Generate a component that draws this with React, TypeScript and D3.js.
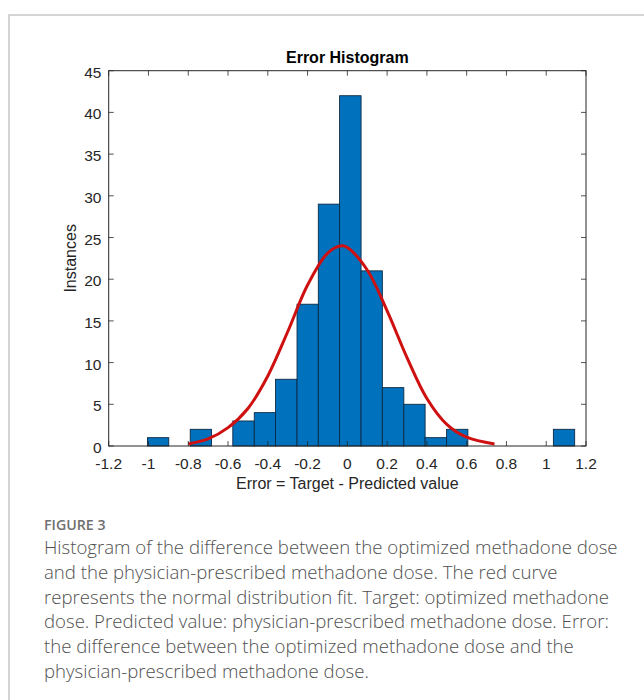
import React from "react";
import * as d3 from "d3";

// ---- data ----
const binEdges = [
  -1.005, -0.898, -0.79, -0.683, -0.576, -0.468, -0.361, -0.253, -0.146, -0.039,
  0.069, 0.176, 0.284, 0.391, 0.499, 0.606, 0.713, 0.821, 0.928, 1.036, 1.143,
];
const binCounts = [1, 0, 2, 0, 3, 4, 8, 17, 29, 42, 21, 7, 5, 1, 2, 0, 0, 0, 0, 2];

const fitX = [-0.8, -0.7, -0.6, -0.5, -0.4, -0.3, -0.2, -0.1, -0.03, 0, 0.1, 0.2, 0.3, 0.4, 0.5, 0.6, 0.74];
const fitY = [0.25, 0.85, 2.2, 4.5, 8.4, 13.7, 19.3, 23.1, 24.0, 23.8, 21.1, 16.2, 10.6, 5.7, 2.6, 1.05, 0.25];

const xTicks = [-1.2, -1, -0.8, -0.6, -0.4, -0.2, 0, 0.2, 0.4, 0.6, 0.8, 1, 1.2];
const xTickLabels = ["-1.2", "-1", "-0.8", "-0.6", "-0.4", "-0.2", "0", "0.2", "0.4", "0.6", "0.8", "1", "1.2"];
const yTicks = [0, 5, 10, 15, 20, 25, 30, 35, 40, 45];

const titleText = "Error Histogram";
const xLabelText = "Error = Target - Predicted value";
const yLabelText = "Instances";
const figureLabel = "FIGURE 3";
const captionLines = [
  "Histogram of the difference between the optimized methadone dose",
  "and the physician-prescribed methadone dose. The red curve",
  "represents the normal distribution fit. Target: optimized methadone",
  "dose. Predicted value: physician-prescribed methadone dose. Error:",
  "the difference between the optimized methadone dose and the",
  "physician-prescribed methadone dose.",
];

// ---- layout ----
const W = 644;
const H = 700;
const plot = { left: 108.7, right: 586, top: 70.7, bottom: 446 };
const FONT = "'Liberation Sans', Arial, Helvetica, sans-serif";
const CAP_FONT = "'Open Sans', Lato, sans-serif";
const AX = "#262626";

export default function App() {
  const x = d3.scaleLinear().domain([-1.2, 1.2]).range([plot.left, plot.right]);
  const y = d3.scaleLinear().domain([0, 45]).range([plot.bottom, plot.top]);

  const bins = binCounts.map((c, i) => ({ x0: binEdges[i], x1: binEdges[i + 1], c }));
  const fitPts = fitX.map((v, i) => [v, fitY[i]] as [number, number]);
  const line = d3
    .line<[number, number]>()
    .x((d) => x(d[0]))
    .y((d) => y(d[1]))
    .curve(d3.curveCatmullRom.alpha(0.5));

  const tick = 5;

  return (
    <svg
      width={W}
      height={H}
      style={{ position: "absolute", left: 0, top: 0, background: "#fff" }}
    >
      {/* card border */}
      <path d={`M9,${H} V15 H${W}`} fill="none" stroke="#c6c6c6" strokeWidth={1.5} />

      {/* bars */}
      {bins
        .filter((b) => b.c > 0)
        .map((b, i) => (
          <rect
            key={i}
            x={x(b.x0)}
            y={y(b.c)}
            width={x(b.x1) - x(b.x0)}
            height={y(0) - y(b.c)}
            fill="#0072BD"
            stroke="#0d2a45"
            strokeWidth={0.9}
          />
        ))}

      {/* fit curve */}
      <path d={line(fitPts) || ""} fill="none" stroke="#cf1010" strokeWidth={3} />

      {/* axes box */}
      <rect
        x={plot.left}
        y={plot.top}
        width={plot.right - plot.left}
        height={plot.bottom - plot.top}
        fill="none"
        stroke={AX}
        strokeWidth={1}
      />
      {xTicks.map((t, i) => (
        <g key={"xt" + i}>
          <line x1={x(t)} x2={x(t)} y1={plot.bottom} y2={plot.bottom - tick} stroke={AX} strokeWidth={0.8} />
          <line x1={x(t)} x2={x(t)} y1={plot.top} y2={plot.top + tick} stroke={AX} strokeWidth={0.8} />
          <text
            x={x(t)}
            y={468.5}
            textAnchor="middle"
            fontFamily={FONT}
            fontSize={15.5}
            fill={AX}
          >
            {xTickLabels[i]}
          </text>
        </g>
      ))}
      {yTicks.map((t, i) => (
        <g key={"yt" + i}>
          <line x1={plot.left} x2={plot.left + tick} y1={y(t)} y2={y(t)} stroke={AX} strokeWidth={0.8} />
          <line x1={plot.right} x2={plot.right - tick} y1={y(t)} y2={y(t)} stroke={AX} strokeWidth={0.8} />
          <text
            x={101.5}
            y={y(t) + 7}
            textAnchor="end"
            fontFamily={FONT}
            fontSize={15.5}
            fill={AX}
          >
            {t}
          </text>
        </g>
      ))}

      {/* title & labels */}
      <text x={(plot.left + plot.right) / 2} y={63} textAnchor="middle" fontFamily={FONT} fontSize={16} fontWeight="bold" fill="#000">
        {titleText}
      </text>
      <text x={(plot.left + plot.right) / 2} y={489} textAnchor="middle" fontFamily={FONT} fontSize={16} fill={AX}>
        {xLabelText}
      </text>
      <text
        transform={`translate(76, ${(plot.top + plot.bottom) / 2}) rotate(-90)`}
        textAnchor="middle"
        fontFamily={FONT}
        fontSize={16}
        fill={AX}
      >
        {yLabelText}
      </text>

      {/* caption */}
      <text x={44} y={530} fontFamily={CAP_FONT} fontSize={14.2} fontWeight={600} fill="#707070">
        {figureLabel}
      </text>
      {captionLines.map((l, i) => (
        <text
          key={"c" + i}
          x={44}
          y={554 + i * 24.8}
          fontFamily={CAP_FONT}
          fontSize={18.6}
          fontWeight={300}
          fill="#505050"
        >
          {l}
        </text>
      ))}
    </svg>
  );
}
